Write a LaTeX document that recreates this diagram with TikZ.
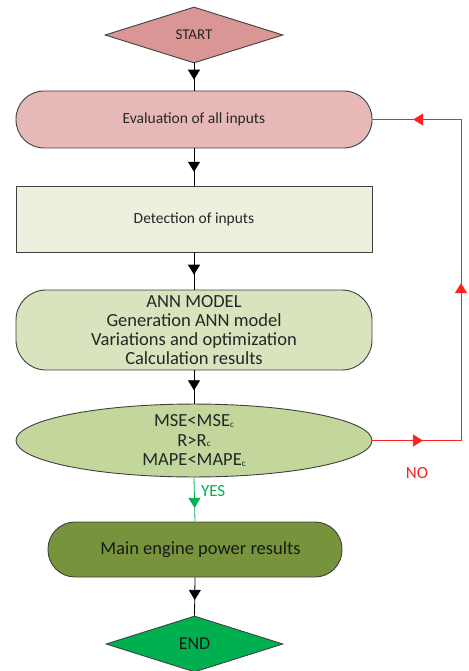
\documentclass[tikz,border=0pt]{standalone}
\usepackage{fontspec}
\setmainfont{Carlito}
\usetikzlibrary{shapes.geometric,arrows.meta,decorations.markings}
\definecolor{txt}{HTML}{262626}
\definecolor{bord}{HTML}{404040}
\definecolor{startc}{HTML}{D99694}
\definecolor{evalc}{HTML}{E6B9B8}
\definecolor{detc}{HTML}{EBF1DE}
\definecolor{annc}{HTML}{D7E4BD}
\definecolor{ellc}{HTML}{C3D69B}
\definecolor{mainc}{HTML}{77933C}
\definecolor{endc}{HTML}{00B050}
\definecolor{noc}{HTML}{FF2020}
\definecolor{yesc}{HTML}{00B050}
\newcommand{\subc}{\raisebox{-0.5pt}{\fontsize{9}{9}\selectfont c}}
\tikzset{
  x=1pt,y=-1pt,
  shp/.style={draw=bord,line width=0.9pt,text=txt,inner sep=0pt,align=center},
  dia/.style={shp,diamond,minimum width=178pt,minimum height=56pt},
  rbox/.style={shp,rectangle,rounded corners=28pt,minimum width=356pt,minimum height=57pt},
  midarrow/.style={postaction={decorate},decoration={markings,mark=at position #1 with {\arrow{Triangle[width=12pt,length=10pt]}}}},
  conn/.style={line width=0.8pt,draw=black},
}
\begin{document}
\begin{tikzpicture}
\useasboundingbox (0,0) rectangle (468,671);
\node[dia,fill=startc,font=\fontsize{15}{17}\selectfont] (start) at (194,35) {START};
\node[rbox,fill=evalc,font=\fontsize{15.5}{18}\selectfont] (eval) at (194,119.5) {Evaluation of all inputs};
\node[shp,rectangle,fill=detc,minimum width=356pt,minimum height=66pt,font=\fontsize{15.5}{18}\selectfont] (detect) at (194,219) {Detection of inputs};
\node[shp,rectangle,rounded corners=30pt,fill=annc,minimum width=356pt,minimum height=80pt,font=\fontsize{18.5}{19}\selectfont] (ann) at (194,330) {ANN MODEL\\Generation ANN model\\Variations and optimization\\Calculation results};
\node[shp,ellipse,fill=ellc,minimum width=356pt,minimum height=65pt,font=\fontsize{18.5}{19.5}\selectfont] (ell) at (194,440.5) {MSE<MSE\subc\\R>R\subc\\MAPE<MAPE\subc};
\node[rbox,fill=mainc,minimum width=294pt,minimum height=55pt,rounded corners=27pt,text=black!90,font=\fontsize{18.5}{20}\selectfont] (main) at (195,549.5) {\hspace*{11pt}Main engine power results};
\node[dia,fill=endc,minimum width=177pt,text=black!90,font=\fontsize{18}{20}\selectfont] (end) at (194.5,644) {END};
\coordinate (c1) at (461,440.5);
\coordinate (c2) at (461,119.5);
\draw[conn,midarrow=0.6] (start.south) -- (eval.north);
\draw[conn,midarrow=0.63] (eval.south) -- (detect.north);
\draw[conn,midarrow=0.6] (detect.south) -- (ann.north);
\draw[conn,midarrow=0.6] (ann.south) -- (ell.north);
\draw[conn,draw=yesc,color=yesc,midarrow=0.69] (ell.south) -- node[pos=0.3,right=3pt,text=yesc,font=\fontsize{17}{19}\selectfont] (yes) {YES} (main.north);
\draw[conn,midarrow=0.59] (main.south) -- (end.north);
\draw[line width=0.8pt,noc,midarrow=0.57] (ell.east) -- (c1);
\draw[line width=0.8pt,noc,midarrow=0.49] (c1) -- (c2);
\draw[line width=0.8pt,noc,midarrow=0.54] (c2) -- (eval.east);
\node[text=noc,font=\fontsize{17}{19}\selectfont] (no) at (417,473) {NO};
\end{tikzpicture}
\end{document}
